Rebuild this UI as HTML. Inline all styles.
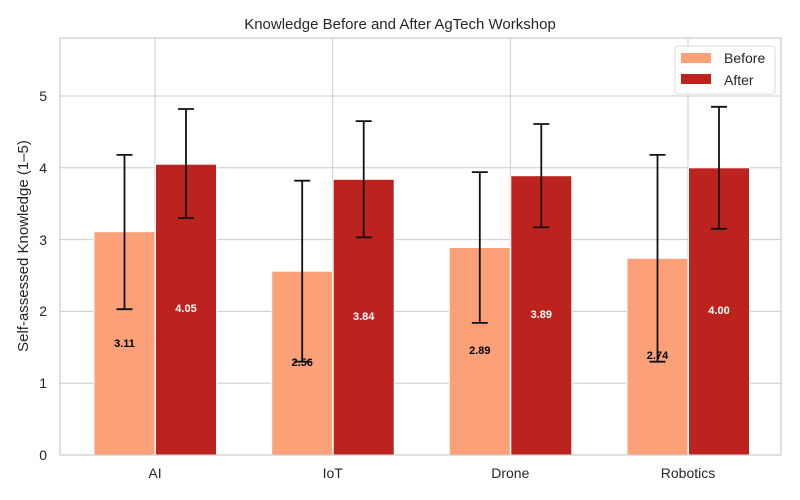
<!DOCTYPE html>
<html><head><meta charset="utf-8"><style>body{margin:0;background:#fff}svg{display:block}text{font-family:"Liberation Sans",sans-serif}</style></head><body>
<svg width="800" height="500" viewBox="0 0 800 500" xmlns="http://www.w3.org/2000/svg">
<rect width="800" height="500" fill="#fff"/>
<g stroke="#cccccc" stroke-width="1">
<line x1="60" y1="383.2" x2="781" y2="383.2"/><line x1="60" y1="311.4" x2="781" y2="311.4"/><line x1="60" y1="239.6" x2="781" y2="239.6"/><line x1="60" y1="167.8" x2="781" y2="167.8"/><line x1="60" y1="96" x2="781" y2="96"/>
<line x1="155" y1="38" x2="155" y2="455"/><line x1="332.7" y1="38" x2="332.7" y2="455"/><line x1="510.3" y1="38" x2="510.3" y2="455"/><line x1="688" y1="38" x2="688" y2="455"/>
</g>
<g fill="#fca078" stroke="#fff" stroke-width="1">
<rect x="94" y="231.7" width="61" height="223.3"/><rect x="271.7" y="271.2" width="61" height="183.8"/><rect x="449.3" y="247.5" width="61" height="207.5"/><rect x="627" y="258.3" width="61" height="196.7"/>
</g>
<g fill="#bc221e" stroke="#fff" stroke-width="1">
<rect x="155.5" y="164.2" width="61" height="290.8"/><rect x="333.2" y="179.3" width="61" height="275.7"/><rect x="510.8" y="175.7" width="61" height="279.3"/><rect x="688.5" y="167.8" width="61" height="287.2"/>
</g>
<rect x="60" y="38" width="721" height="417" fill="none" stroke="#cccccc" stroke-width="1.2"/>
<g stroke="#111" stroke-width="1.8" fill="none">
<path d="M124.5 154.9V309.2M116.5 154.9h16M116.5 309.2h16"/>
<path d="M186 109V218M178 109h16M178 218h16"/>
<path d="M302.2 180.7V361.7M294.2 180.7h16M294.2 361.7h16"/>
<path d="M363.7 121.1V237.4M355.7 121.1h16M355.7 237.4h16"/>
<path d="M479.8 172.1V322.9M471.8 172.1h16M471.8 322.9h16"/>
<path d="M541.3 124V227.4M533.3 124h16M533.3 227.4h16"/>
<path d="M657.5 154.9V361.7M649.5 154.9h16M649.5 361.7h16"/>
<path d="M719 106.8V228.8M711 106.8h16M711 228.8h16"/>
</g>
<g font-size="11" font-weight="bold" text-anchor="middle">
<text x="124.5" y="347">3.11</text><text x="302.2" y="366">2.56</text><text x="479.8" y="354">2.89</text><text x="657.5" y="359">2.74</text>
<text x="186" y="312" fill="#fff">4.05</text><text x="363.7" y="320" fill="#fff">3.84</text><text x="541.3" y="318" fill="#fff">3.89</text><text x="719" y="314" fill="#fff">4.00</text>
</g>
<g font-size="14" fill="#262626" text-anchor="end">
<text x="47" y="460">0</text><text x="47" y="388">1</text><text x="47" y="316">2</text><text x="47" y="245">3</text><text x="47" y="173">4</text><text x="47" y="101">5</text>
</g>
<g font-size="14" fill="#262626" text-anchor="middle">
<text x="155" y="478">AI</text><text x="332.7" y="478">IoT</text><text x="510.3" y="478">Drone</text><text x="688" y="478">Robotics</text>
<text x="400" y="29" font-size="15">Knowledge Before and After AgTech Workshop</text>
<text transform="translate(28 246) rotate(-90)" font-size="15">Self-assessed Knowledge (1–5)</text>
</g>
<rect x="675" y="46" width="100" height="48" rx="3" fill="#fff" fill-opacity="0.85" stroke="#dddddd"/>
<rect x="681" y="53" width="30" height="10" fill="#fca078"/>
<rect x="681" y="74" width="30" height="10" fill="#bc221e"/>
<text x="724" y="63" font-size="14" fill="#262626">Before</text>
<text x="724" y="85" font-size="14" fill="#262626">After</text>
</svg>
</body></html>
